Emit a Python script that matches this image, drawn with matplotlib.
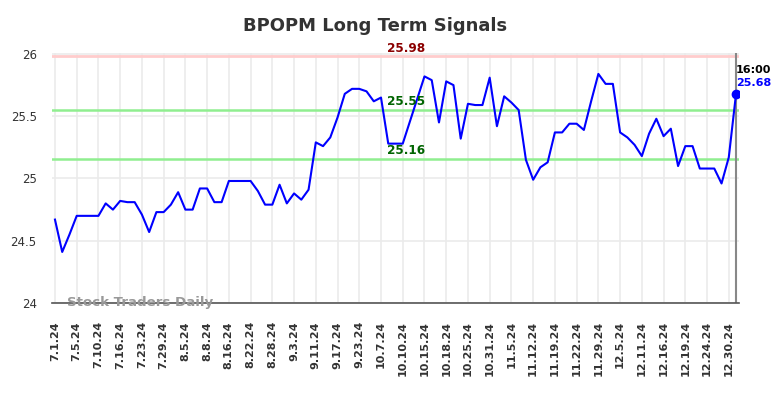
import matplotlib
matplotlib.use('Agg')
import matplotlib.pyplot as plt

# data (one point per trading sample)
prices = [24.67, 24.41, 24.55, 24.70, 24.70, 24.70, 24.70, 24.80, 24.75, 24.82,
          24.81, 24.81, 24.71, 24.57, 24.73, 24.73, 24.79, 24.89, 24.75, 24.75,
          24.92, 24.92, 24.81, 24.81, 24.98, 24.98, 24.98, 24.98, 24.90, 24.79,
          24.79, 24.95, 24.80, 24.88, 24.83, 24.91, 25.29, 25.26, 25.33, 25.49,
          25.68, 25.72, 25.72, 25.70, 25.62, 25.65, 25.28, 25.28, 25.28, 25.46,
          25.64, 25.82, 25.79, 25.45, 25.78, 25.75, 25.32, 25.60, 25.59, 25.59,
          25.81, 25.42, 25.66, 25.61, 25.55, 25.15, 24.99, 25.09, 25.13, 25.37,
          25.37, 25.44, 25.44, 25.39, 25.62, 25.84, 25.76, 25.76, 25.37, 25.33,
          25.27, 25.18, 25.36, 25.48, 25.34, 25.40, 25.10, 25.26, 25.26, 25.08,
          25.08, 25.08, 24.96, 25.17, 25.68]
date_labels = ['7.1.24', '7.5.24', '7.10.24', '7.16.24', '7.23.24', '7.29.24',
               '8.5.24', '8.8.24', '8.16.24', '8.22.24', '8.28.24', '9.3.24',
               '9.11.24', '9.17.24', '9.23.24', '10.7.24', '10.10.24', '10.15.24',
               '10.18.24', '10.25.24', '10.31.24', '11.5.24', '11.12.24', '11.19.24',
               '11.22.24', '11.29.24', '12.5.24', '12.11.24', '12.16.24', '12.19.24',
               '12.24.24', '12.30.24']
resistance = 25.98
support_hi = 25.55
support_lo = 25.16
last_time = '16:00'

x = list(range(len(prices)))
tick_pos = [i * 3 for i in range(len(date_labels))]

fig = plt.figure(figsize=(7.84, 3.98), dpi=100)
ax = fig.add_axes([52 / 784, 1 - 303 / 398, 687 / 784, 250.5 / 398])

ax.set_xlim(-0.41, len(prices) - 1 + 0.41)
ax.set_ylim(24, 26.012)

ax.grid(True, color='#ebebeb', lw=1.2)
ax.set_axisbelow(True)
for s in ['top', 'right', 'left']:
    ax.spines[s].set_visible(False)
ax.spines['bottom'].set_color('#555555')
ax.spines['bottom'].set_linewidth(1.2)

ax.set_yticks([24, 24.5, 25, 25.5, 26])
ax.set_yticklabels(['24', '24.5', '25', '25.5', '26'])
ax.set_xticks(tick_pos)
ax.set_xticklabels(date_labels, rotation=90, fontweight='bold')
ax.tick_params(axis='y', length=0, pad=11, labelsize=8.5, labelcolor='#333333')
ax.tick_params(axis='x', length=0, pad=13, labelsize=8, labelcolor='#333333')

ax.axhline(resistance, color='#ffcccc', lw=2)
ax.axhline(support_hi, color='#90ee90', lw=1.8)
ax.axhline(support_lo, color='#90ee90', lw=1.8)
ax.axvline(x[-1], color='#888888', lw=1.5)

ax.plot(x, prices, color='#0000ff', lw=1.5)
ax.plot(x[-1], prices[-1], 'o', color='#0000ff', ms=6)

mid = 48.5
ax.text(mid, resistance + 0.015, f'{resistance:.2f}', color='#8b0000', fontweight='bold',
        fontsize=8.7, ha='center', va='bottom')
ax.text(mid, support_hi + 0.015, f'{support_hi:.2f}', color='#006400', fontweight='bold',
        fontsize=8.7, ha='center', va='bottom')
ax.text(mid, support_lo + 0.015, f'{support_lo:.2f}', color='#006400', fontweight='bold',
        fontsize=8.7, ha='center', va='bottom')

ax.text(x[-1], 25.87, last_time, color='black', fontweight='bold', fontsize=8,
        ha='left', va='center')
ax.text(x[-1], 25.765, f'{prices[-1]:.2f}', color='#0000ff', fontweight='bold', fontsize=8,
        ha='left', va='center')

ax.text(1.6, 24.0, 'Stock Traders Daily', color='#999999', fontweight='bold', fontsize=9.6,
        ha='left', va='center')

fig.suptitle('BPOPM Long Term Signals', x=375 / 784, y=1 - 26 / 398, va='center',
             fontsize=13, fontweight='bold', color='#333333')

plt.savefig('out.png', dpi=100)
